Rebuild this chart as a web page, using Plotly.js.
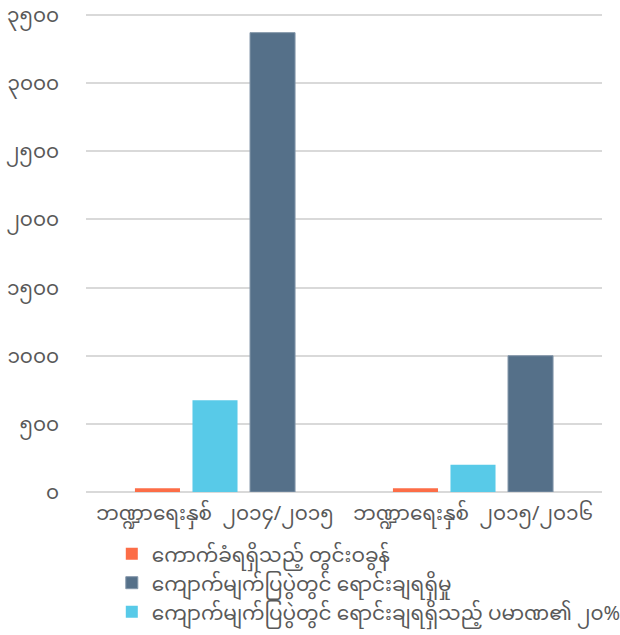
<!DOCTYPE html>
<html>
<head>
<meta charset="utf-8">
<script src="https://cdn.plot.ly/plotly-3.0.1.min.js"></script>
<style>html,body{margin:0;padding:0;background:#fff;}#chart{width:620px;height:635px;}</style>
</head>
<body>
<div id="chart"></div>
<script>
const categories = ["ဘဏ္ဍာရေးနှစ်  ၂၀၁၄/၂၀၁၅", "ဘဏ္ဍာရေးနှစ်  ၂၀၁၅/၂၀၁၆"];
const seriesNames = [
  "ကောက်ခံရရှိသည့် တွင်းဝခွန်",
  "ကျောက်မျက်ပြပွဲတွင် ရောင်းချရရှိမှု",
  "ကျောက်မျက်ပြပွဲတွင် ရောင်းချရရှိသည့် ပမာဏ၏ ၂၀%"
];
const royalty = [28, 28];
const sales = [3370, 1000];
const sales20 = [674, 200];
const tickVals = [0, 500, 1000, 1500, 2000, 2500, 3000, 3500];
const tickText = ["၀", "၅၀၀", "၁၀၀၀", "၁၅၀၀", "၂၀၀၀", "၂၅၀၀", "၃၀၀၀", "၃၅၀၀"];

const FONT = "'Noto Sans Myanmar', Padauk, 'Myanmar Text', 'Noto Sans', sans-serif";

const traces = [
  {type: "bar", x: categories, y: royalty, name: seriesNames[0], legendrank: 1,
   marker: {color: "#FC6D47"}, hoverinfo: "none"},
  {type: "bar", x: categories, y: sales20, name: seriesNames[2], legendrank: 3,
   marker: {color: "#58CAE8"}, hoverinfo: "none"},
  {type: "bar", x: categories, y: sales, name: seriesNames[1], legendrank: 2,
   marker: {color: "#557089", line: {color: "#8497AA", width: 1}}, hoverinfo: "none"}
];

const layout = {
  width: 620, height: 635,
  margin: {l: 86, r: 18, t: 7, b: 143, autoexpand: false},
  paper_bgcolor: "#fff", plot_bgcolor: "#fff",
  barmode: "group", bargap: 0.331, bargroupgap: 0.217,
  font: {family: FONT, size: 20, color: "#595959"},
  showlegend: true,
  legend: {orientation: "v", x: 0.05, xanchor: "left", y: -0.087, yanchor: "top",
           font: {family: FONT, size: 20, color: "#595959"}, tracegroupgap: 0,
           itemwidth: 30, bgcolor: "rgba(0,0,0,0)"},
  xaxis: {type: "category", showgrid: false, showline: false, zeroline: false,
          ticks: "", ticklabelstandoff: 7, tickangle: 0, automargin: false,
          tickfont: {family: FONT, size: 20, color: "#595959"}},
  yaxis: {range: [0, 3558], tickvals: tickVals, ticktext: tickText, automargin: false,
          ticklabeloverflow: "allow",
          showgrid: true, gridcolor: "#D9D9D9", gridwidth: 2,
          zeroline: true, zerolinecolor: "#D9D9D9", zerolinewidth: 2,
          showline: false, ticks: "", ticklabelstandoff: 26,
          tickfont: {family: FONT, size: 20, color: "#595959"}}
};

Plotly.newPlot("chart", traces, layout, {staticPlot: true, displayModeBar: false});
</script>
</body>
</html>
